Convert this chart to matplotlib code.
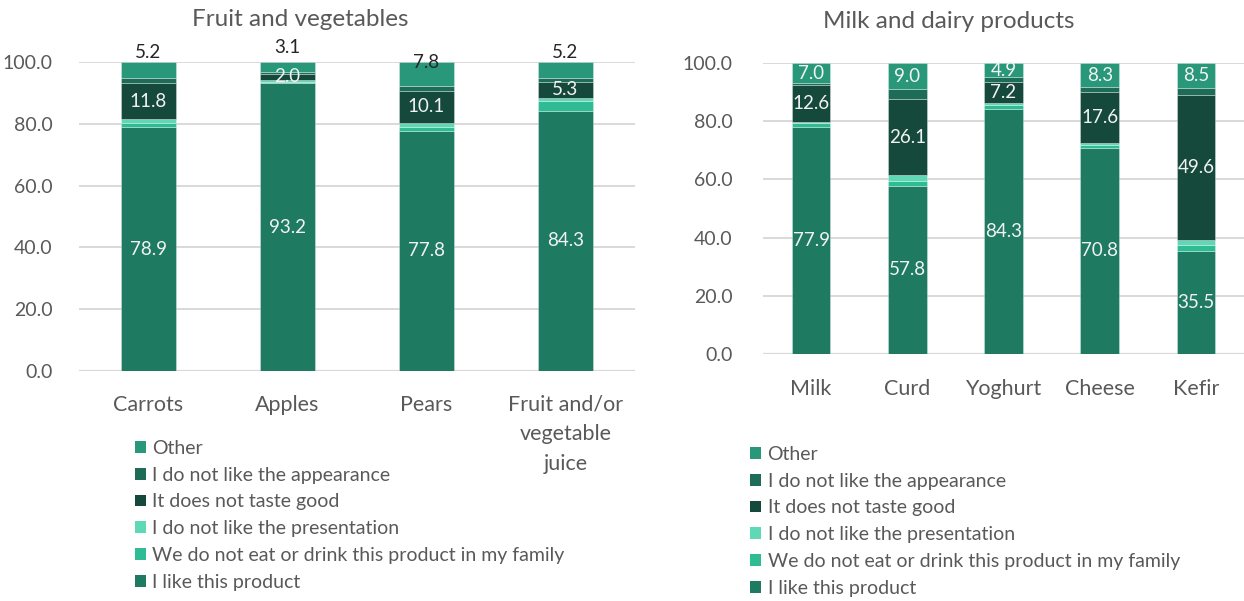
import numpy as np
import matplotlib.pyplot as plt
from matplotlib.patches import Patch

plt.rcParams['font.family'] = ['Lato', 'DejaVu Sans']

series = ['I like this product',
          'We do not eat or drink this product in my family',
          'I do not like the presentation',
          'It does not taste good',
          'I do not like the appearance',
          'Other']
colors = ['#1f7a62', '#2fbb94', '#5fd8b6', '#15493b', '#1e6c57', '#28977a']

# fruit and vegetables
fv_cats = ['Carrots', 'Apples', 'Pears', 'Fruit and/or\nvegetable\njuice']
fv_like = [78.9, 93.2, 77.8, 84.3]
fv_eat = [1.5, 0.3, 1.2, 3.2]
fv_pres = [1.0, 0.7, 1.4, 0.8]
fv_taste = [11.8, 2.0, 10.1, 5.3]
fv_appear = [1.6, 0.7, 1.7, 1.2]
fv_other = [5.2, 3.1, 7.8, 5.2]

# milk and dairy
d_cats = ['Milk', 'Curd', 'Yoghurt', 'Cheese', 'Kefir']
d_like = [77.9, 57.8, 84.3, 70.8, 35.5]
d_eat = [1.5, 1.5, 1.3, 0.9, 2.1]
d_pres = [0.4, 2.1, 0.8, 0.7, 1.7]
d_taste = [12.6, 26.1, 7.2, 17.6, 49.6]
d_appear = [0.6, 3.5, 1.5, 1.7, 2.6]
d_other = [7.0, 9.0, 4.9, 8.3, 8.5]

grey = '#595959'
lab_col = '#f2f2f2'

fig = plt.figure(figsize=(12.44, 6.01), dpi=100)
axL = fig.add_axes([79/1244, 230/601, 556/1244, 309/601])
axR = fig.add_axes([763/1244, 247/601, 481/1244, 291/601])


def draw(ax, cats, data, other_dark=False, other_shift=None):
    x = np.arange(len(cats))
    bottom = np.zeros(len(cats))
    bars = []
    for vals, c in zip(data, colors):
        vals = np.array(vals)
        ax.bar(x, vals, 0.4, bottom=bottom, color=c,
               edgecolor=(1, 1, 1, 0.35), linewidth=0.6, zorder=3)
        bars.append((vals, bottom.copy()))
        bottom = bottom + vals
    # labels: like (0), taste (3), other (5)
    for k in [0, 3, 5]:
        vals, bot = bars[k]
        for i in range(len(cats)):
            yc = bot[i] + vals[i] / 2
            col = lab_col
            dy = 0
            if k == 5 and other_dark:
                col = '#262626'
                dy = other_shift[i]
            ax.annotate('%.1f' % vals[i], (x[i], yc), xytext=(0, dy),
                        textcoords='offset pixels', ha='center', va='center',
                        fontsize=13.5, color=col, zorder=5, annotation_clip=False)
    ax.set_xlim(-0.5, len(cats) - 0.5)
    ax.set_ylim(0, 100)
    ax.set_yticks(np.arange(0, 101, 20))
    ax.set_yticklabels(['%.1f' % v for v in np.arange(0, 101, 20)], fontsize=14)
    ax.set_xticks(x)
    ax.set_xticklabels(cats, linespacing=1.6, fontsize=15.5)
    ax.tick_params(axis='both', length=0, colors=grey)
    ax.tick_params(axis='y', pad=19)
    ax.grid(axis='y', color='#d9d9d9', linewidth=1.4, zorder=0)
    for s in ax.spines.values():
        s.set_visible(False)
    ax.axhline(0, color='#d9d9d9', linewidth=1.6, zorder=2)


draw(axL, fv_cats, [fv_like, fv_eat, fv_pres, fv_taste, fv_appear, fv_other],
     other_dark=True, other_shift=[18, 19, 12, 18])
draw(axR, d_cats, [d_like, d_eat, d_pres, d_taste, d_appear, d_other])
axL.tick_params(axis='x', pad=17)
axR.tick_params(axis='x', pad=18)
axR.tick_params(axis='y', pad=22)

fig.text(300/1244, 1 - 20/601, 'Fruit and vegetables', ha='center', va='center',
         fontsize=17.5, color=grey)
fig.text(949/1244, 1 - 22/601, 'Milk and dairy products', ha='center', va='center',
         fontsize=17.5, color=grey)

handles = [Patch(facecolor=c, edgecolor='none') for c in colors][::-1]
labels = series[::-1]
for xa, ya in [(135/1244, 1 - 440/601), (750/1244, 1 - 446/601)]:
    fig.legend(handles, labels, loc='upper left', bbox_to_anchor=(xa, ya),
               frameon=False, fontsize=14, labelcolor=grey,
               handlelength=0.55, handleheight=0.55, handletextpad=0.35,
               labelspacing=0.5, borderpad=0, borderaxespad=0)

fig.savefig('out.png', dpi=100)
